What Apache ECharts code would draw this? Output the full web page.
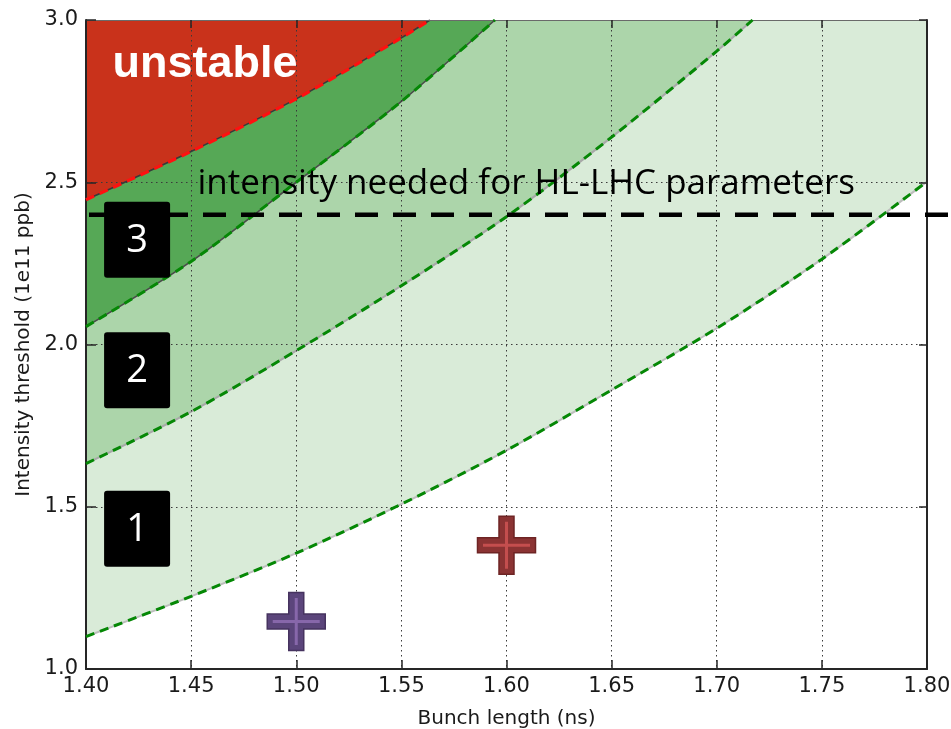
<!DOCTYPE html>
<html>
<head>
<meta charset="utf-8">
<script src="https://cdn.jsdelivr.net/npm/echarts@6/dist/echarts.min.js"></script>
<style>
html,body{margin:0;padding:0;background:#fff;}
#chart{width:951px;height:729px;}
</style>
</head>
<body>
<div id="chart"></div>
<script>
// ---- data ----
const xTicks = [1.40, 1.45, 1.50, 1.55, 1.60, 1.65, 1.70, 1.75, 1.80];
const yTicks = [1.0, 1.5, 2.0, 2.5, 3.0];

// boundary 1 (lowest threshold curve)
const bunchLength1 = [1.40, 1.45, 1.50, 1.55, 1.60, 1.65, 1.70, 1.75, 1.80];
const threshold1   = [1.100, 1.224, 1.357, 1.508, 1.674, 1.860, 2.050, 2.263, 2.502];
// boundary 2
const bunchLength2 = [1.40, 1.45, 1.50, 1.55, 1.60, 1.65, 1.70, 1.717];
const threshold2   = [1.633, 1.793, 1.981, 2.181, 2.394, 2.639, 2.904, 3.0];
// boundary 3
const bunchLength3 = [1.40, 1.45, 1.50, 1.55, 1.5945];
const threshold3   = [2.055, 2.256, 2.500, 2.749, 3.0];
// unstable boundary
const bunchLengthU = [1.40, 1.45, 1.50, 1.55, 1.5636];
const thresholdU   = [2.446, 2.595, 2.757, 2.945, 3.0];

const hlLhcIntensity = 2.4;
const hlLhcText = 'intensity needed for HL-LHC parameters';
const unstableText = 'unstable';

const measuredBunchLength = [1.50, 1.60];
const measuredIntensity   = [1.146, 1.381];

const regionLabels = ['3', '2', '1'];
const regionLabelX = [1.4243, 1.4243, 1.4243];
const regionLabelY = [2.323, 1.921, 1.432];

const textAnchorX = [1.4124, 1.4528];
const textAnchorY = [2.862, 2.494];

// ---- build ----
const zip = (xs, ys) => xs.map((x, i) => [x, ys[i]]);

const FILL_LIGHT = '#d9ebd8', FILL_MED = '#acd5aa', FILL_DARK = '#56a856', FILL_RED = '#c9321b';
const SMOOTH = 0.3;

function areaSeries(data, fill, lineColor, lineWidth) {
  return {
    type: 'line', data, smooth: SMOOTH, symbol: 'none',
    xAxisIndex: 0, yAxisIndex: 0, z: 1, silent: true,
    lineStyle: { color: lineColor, width: lineWidth },
    areaStyle: { color: fill, origin: 'end', opacity: 1 }
  };
}
function dashSeries(data, color, width) {
  return {
    type: 'line', data, smooth: SMOOTH, symbol: 'none',
    xAxisIndex: 0, yAxisIndex: 0, z: 4, silent: true,
    lineStyle: { color, width: width || 3, type: [9, 6] }
  };
}

const plusThick = 'path://M21.5,0 H36.5 V21.5 H58 V36.5 H36.5 V58 H21.5 V36.5 H0 V21.5 H21.5 Z';
const plusThin  = 'path://M22,0 H25 V22 H47 V25 H25 V47 H22 V25 H0 V22 H22 Z';
const boxPath   = 'path://M3,0 H63 Q66,0 66,3 V73 Q66,76 63,76 H3 Q0,76 0,73 V3 Q0,0 3,0 Z';
const crossFill  = ['#5b457b', '#8b3333'];
const crossBorder = ['#46335f', '#6e2424'];
const crossInner = ['#8767aa', '#c44e4e'];

const tickFont = { fontFamily: 'DejaVu Sans', fontSize: 21, color: '#1a1a1a' };
const frameColor = '#262626';

const option = {
  animation: false,
  backgroundColor: '#ffffff',
  grid: [
    { left: 86, right: 24, top: 20, bottom: 60, outerBoundsMode: 'none', containLabel: false },
    { left: 86, right: 0, top: 20, bottom: 60, outerBoundsMode: 'none', containLabel: false }
  ],
  xAxis: [
    {
      type: 'value', gridIndex: 0, min: xTicks[0], max: xTicks[xTicks.length - 1], interval: 0.05, z: 3,
      axisLine: { show: true, onZero: false, lineStyle: { color: frameColor, width: 2 } },
      axisTick: { show: true, inside: true, length: 9, lineStyle: { color: frameColor, width: 1.5 } },
      axisLabel: { ...tickFont, margin: 7, formatter: v => v.toFixed(2) },
      splitLine: { show: true, lineStyle: { color: '#3a3a3a', width: 1, type: [1.5, 3.5] } },
      name: 'Bunch length (ns)', nameLocation: 'middle', nameGap: 40,
      nameTextStyle: { fontFamily: 'DejaVu Sans', fontSize: 20, color: '#1a1a1a' }
    },
    {
      type: 'value', gridIndex: 0, position: 'top', min: xTicks[0], max: xTicks[xTicks.length - 1], interval: 0.05, z: 3,
      axisLine: { show: true, onZero: false, lineStyle: { color: '#6a6a6a', width: 1.2 } },
      axisTick: { show: true, inside: true, length: 8, lineStyle: { color: frameColor, width: 1.5 } },
      axisLabel: { show: false }, splitLine: { show: false }
    },
    { type: 'value', gridIndex: 1, min: 0, max: 1, show: false }
  ],
  yAxis: [
    {
      type: 'value', gridIndex: 0, min: yTicks[0], max: yTicks[yTicks.length - 1], interval: 0.5, z: 3,
      axisLine: { show: true, onZero: false, lineStyle: { color: frameColor, width: 2 } },
      axisTick: { show: true, inside: true, length: 10, lineStyle: { color: frameColor, width: 1.5 } },
      axisLabel: { ...tickFont, margin: 8, formatter: v => v.toFixed(1) },
      splitLine: { show: true, lineStyle: { color: '#3a3a3a', width: 1, type: [1.5, 3.5] } },
      name: 'Intensity threshold (1e11 ppb)', nameLocation: 'middle', nameGap: 52, nameRotate: 90,
      nameTextStyle: { fontFamily: 'DejaVu Sans', fontSize: 20, color: '#1a1a1a' }
    },
    {
      type: 'value', gridIndex: 0, position: 'right', min: yTicks[0], max: yTicks[yTicks.length - 1], interval: 0.5, z: 3,
      axisLine: { show: true, onZero: false, lineStyle: { color: frameColor, width: 2 } },
      axisTick: { show: true, inside: true, length: 8, lineStyle: { color: frameColor, width: 1.5 } },
      axisLabel: { show: false }, splitLine: { show: false }
    },
    { type: 'value', gridIndex: 1, min: yTicks[0], max: yTicks[yTicks.length - 1], show: false }
  ],
  series: [
    areaSeries(zip(bunchLength1, threshold1), FILL_LIGHT, '#bdbdbd', 2),
    areaSeries(zip(bunchLength2, threshold2), FILL_MED, '#a8a8a8', 2),
    areaSeries(zip(bunchLength3, threshold3), FILL_DARK, '#4a4a4a', 1.6),
    areaSeries(zip(bunchLengthU, thresholdU), FILL_RED, '#3a3a3a', 1.6),
    dashSeries(zip(bunchLength1, threshold1), '#058805'),
    dashSeries(zip(bunchLength2, threshold2), '#058805'),
    dashSeries(zip(bunchLength3, threshold3), '#058805'),
    dashSeries(zip(bunchLengthU, thresholdU), '#ff1010', 3.2),
    // HL-LHC intensity line (spans past the frame to the image edge)
    {
      type: 'line', xAxisIndex: 2, yAxisIndex: 2, symbol: 'none', z: 4, silent: true,
      data: [[0, hlLhcIntensity], [1, hlLhcIntensity]],
      lineStyle: { color: '#000', width: 4.5, type: [23, 15], dashOffset: -3 }
    },
    // region number boxes
    {
      type: 'scatter', xAxisIndex: 0, yAxisIndex: 0, z: 6, silent: true,
      symbol: boxPath, symbolSize: [66, 76],
      itemStyle: { color: '#000', opacity: 1 },
      data: regionLabels.map((n, i) => ({ name: n, value: [regionLabelX[i], regionLabelY[i]] })),
      label: { show: true, position: 'inside', formatter: p => p.name, color: '#fff',
               fontFamily: 'Open Sans', fontSize: 38, offset: [0, 1] }
    },
    // measured points (crosses)
    {
      type: 'scatter', xAxisIndex: 0, yAxisIndex: 0, z: 6, silent: true,
      symbol: plusThick, symbolSize: 58,
      data: measuredBunchLength.map((x, i) => ({
        value: [x, measuredIntensity[i]],
        itemStyle: { color: crossFill[i], borderColor: crossBorder[i], borderWidth: 1.5, opacity: 1 }
      }))
    },
    {
      type: 'scatter', xAxisIndex: 0, yAxisIndex: 0, z: 7, silent: true,
      symbol: plusThin, symbolSize: 47,
      data: measuredBunchLength.map((x, i) => ({
        value: [x, measuredIntensity[i]], itemStyle: { color: crossInner[i], opacity: 1 }
      }))
    },
    // text annotations
    {
      type: 'scatter', xAxisIndex: 0, yAxisIndex: 0, z: 8, silent: true,
      symbolSize: 1, itemStyle: { color: 'rgba(0,0,0,0)', opacity: 1 },
      data: [
        { name: unstableText, value: [textAnchorX[0], textAnchorY[0]],
          label: { color: '#ffffff', fontFamily: 'Liberation Sans', fontWeight: 'bold', fontSize: 45 } },
        { name: hlLhcText, value: [textAnchorX[1], textAnchorY[1]],
          label: { color: '#000000', fontFamily: 'Open Sans', fontSize: 35 } }
      ],
      label: { show: true, position: 'right', distance: 0, opacity: 1, formatter: p => p.name }
    }
  ]
};

const chart = echarts.init(document.getElementById('chart'), null, { renderer: 'canvas' });
chart.setOption(option);
</script>
</body>
</html>
